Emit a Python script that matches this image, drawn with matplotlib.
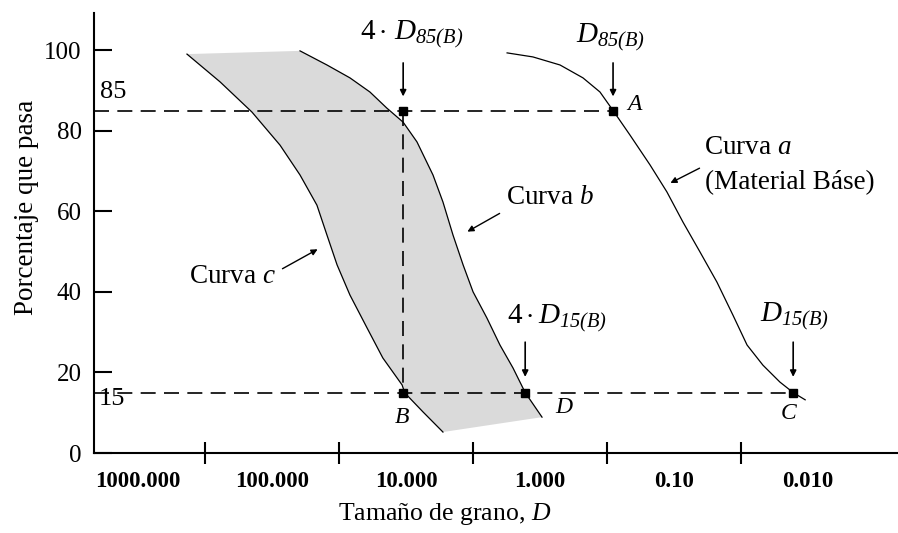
import numpy as np
import matplotlib
matplotlib.use("Agg")
import matplotlib.pyplot as plt

plt.rcParams['font.family'] = ['Liberation Serif', 'DejaVu Serif']
plt.rcParams['mathtext.fontset'] = 'custom'
plt.rcParams['mathtext.rm'] = 'Liberation Serif'
plt.rcParams['mathtext.it'] = 'Liberation Serif:italic'
plt.rcParams['mathtext.bf'] = 'Liberation Serif:bold'
# sf usado para subindices en cursiva (digitos incluidos)
plt.rcParams['mathtext.sf'] = 'Liberation Serif:italic'

# curva a (material base)
xa = [1.76, 1.13, 0.709, 0.478, 0.357, 0.285, 0.213, 0.151, 0.113, 0.0857,
      0.0640, 0.0478, 0.0363, 0.0285, 0.0217, 0.0162, 0.0129, 0.0105]
ya = [99.3, 98.3, 96.3, 93.1, 89.6, 85.0, 78.9, 71.5, 64.8, 57.3,
      49.9, 42.4, 34.2, 26.8, 21.8, 17.6, 15.0, 13.2]

# curva b (borde derecho de la banda)
xb = [61.8, 38.9, 26.2, 18.6, 13.9, 10.5, 8.28, 6.29, 5.30, 4.46,
      3.75, 3.16, 2.49, 1.99, 1.59, 1.29, 0.966]
yb = [99.8, 96.3, 93.1, 89.6, 85.6, 82.1, 77.2, 69.0, 62.3, 54.1,
      46.7, 40.0, 33.5, 26.8, 21.1, 15.0, 8.9]

# curva c (borde izquierdo de la banda)
xc = [431, 244, 141, 87.1, 61.8, 46.2, 38.9, 32.7, 26.2, 19.5,
      14.9, 10.7, 10.2, 7.47, 5.30]
yc = [99.0, 92.1, 84.6, 76.4, 69.0, 61.5, 54.1, 46.7, 39.2, 31.0,
      23.6, 16.9, 14.9, 10.2, 5.2]

# puntos
pt_x = [10.5, 0.285, 10.5, 1.29, 0.0129]
pt_y = [85, 85, 15, 15, 15]

tick_marks = [316, 31.6, 3.16, 0.316, 0.0316]
label_pos = [1000, 100, 10, 1, 0.1, 0.01]
label_txt = ['1000.000', '100.000', '10.000', '1.000', '0.10', '0.010']

fig = plt.figure(figsize=(8.98, 5.33), dpi=100)
ax = fig.add_axes([94/898, 80/533, 804/898, 440/533])
ax.set_xscale('log')
ax.set_xlim(2130, 0.00213)
ax.set_ylim(0, 109.2)

# banda sombreada
ax.fill(xc + xb[::-1], yc + yb[::-1], color='#dadada', lw=0, zorder=1)
ax.plot(xa, ya, color='black', lw=0.9, zorder=3)
ax.plot(xb, yb, color='black', lw=0.9, zorder=3)
ax.plot(xc, yc, color='black', lw=0.9, zorder=3)

# lineas punteadas
ax.plot([2130, 0.285], [85, 85], color='black', lw=1.2, dashes=(9, 5), zorder=2)
ax.plot([2130, 0.0129], [15, 15], color='black', lw=1.2, dashes=(9, 5), zorder=2)
ax.plot([10.5, 10.5], [85, 15], color='black', lw=1.2, dashes=(9, 5), zorder=2)

ax.plot(pt_x, pt_y, 's', color='black', ms=6, zorder=4)

ax.text(1537, 89.6, '85', fontsize=19, ha='center', va='center')
ax.text(1560, 13.4, '15', fontsize=19, ha='center', va='center')

# etiquetas con flechas verticales
arr = dict(arrowstyle='-|>', color='black', lw=1.2, mutation_scale=9)
ax.text(9.0, 103.8, r'$4\cdot\,D_{\mathsf{85(B)}}$', fontsize=21, ha='center', va='center')
ax.annotate('', xy=(10.5, 87.8), xytext=(10.5, 97.5), arrowprops=arr)
ax.text(0.295, 103.2, r'$D_{\mathsf{85(B)}}$', fontsize=21, ha='center', va='center')
ax.annotate('', xy=(0.285, 87.8), xytext=(0.285, 97.5), arrowprops=arr)
ax.text(0.747, 33.5, r'$4\cdot D_{\mathsf{15(B)}}$', fontsize=21, ha='center', va='center')
ax.annotate('', xy=(1.29, 18.2), xytext=(1.29, 28.2), arrowprops=arr)
ax.text(0.0125, 33.8, r'$D_{\mathsf{15(B)}}$', fontsize=21, ha='center', va='center')
ax.annotate('', xy=(0.0129, 18.2), xytext=(0.0129, 28.2), arrowprops=arr)

# letras de los puntos
ax.text(0.195, 86.4, r'$A$', fontsize=17, ha='center', va='center')
ax.text(10.7, 8.7, r'$B$', fontsize=17, ha='center', va='center')
ax.text(0.662, 11.4, r'$D$', fontsize=17, ha='center', va='center')
ax.text(0.01387, 9.7, r'$C$', fontsize=17, ha='center', va='center')

# etiquetas de curvas
arr2 = dict(arrowstyle='-|>', color='black', lw=1.0, mutation_scale=9)
ax.text(0.0280, 75.9, r'Curva $a$', fontsize=19.5, ha='center', va='center')
ax.text(0.0136, 67.2, '(Material Báse)', fontsize=19.5, ha='center', va='center')
ax.annotate('', xy=(0.111, 66.7), xytext=(0.0618, 71.0), arrowprops=arr2)
ax.text(0.842, 63.5, r'Curva $b$', fontsize=19.5, ha='center', va='center')
ax.annotate('', xy=(3.63, 54.6), xytext=(1.92, 59.8), arrowprops=arr2)
ax.text(199, 43.7, r'Curva $c$', fontsize=19.5, ha='center', va='center')
ax.annotate('', xy=(43.8, 50.9), xytext=(87.1, 45.4), arrowprops=arr2)

# ejes
for s in ['top', 'right']:
    ax.spines[s].set_visible(False)
ax.spines['left'].set_linewidth(1.5)
ax.spines['bottom'].set_linewidth(1.5)

ax.set_yticks([0, 20, 40, 60, 80, 100])
ax.tick_params(axis='y', direction='in', length=13, width=1.5, pad=9, labelsize=18)
ax.set_xticks(tick_marks)
ax.set_xticklabels([])
ax.set_xticks(label_pos, label_txt, minor=True)
ax.tick_params(axis='x', which='major', direction='inout', length=16, width=1.5)
ax.tick_params(axis='x', which='minor', length=0, pad=13, labelsize=16.5)
for t in ax.get_xticklabels(minor=True):
    t.set_fontweight('bold')

ax.set_xlabel(r'Tamaño de grano, $D$', fontsize=18.5)
ax.xaxis.set_label_coords(0.4366, -0.11)
ax.set_ylabel('Porcentaje que pasa', fontsize=19.5)
ax.yaxis.set_label_coords(-0.068, 0.559)

fig.savefig('out.png', dpi=100)
